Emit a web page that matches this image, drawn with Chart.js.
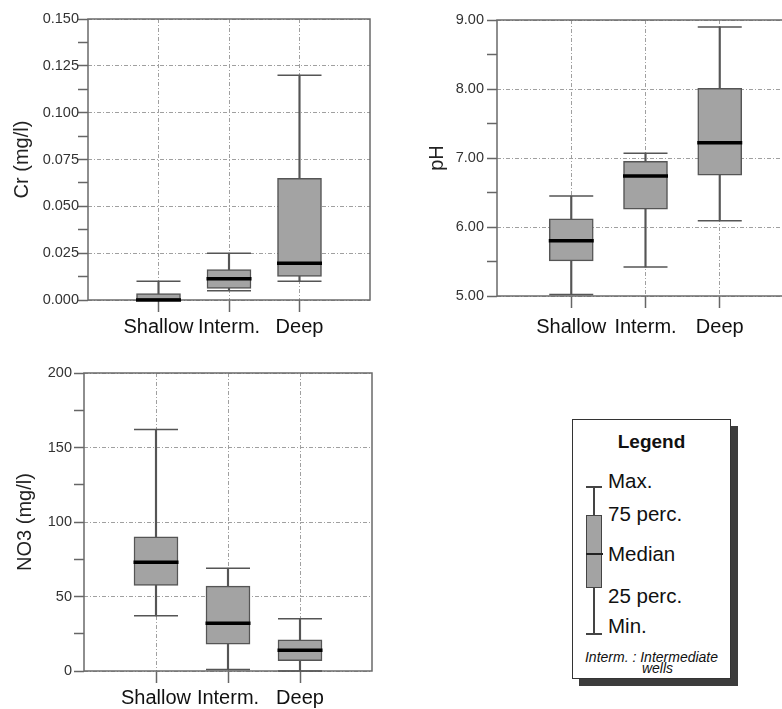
<!DOCTYPE html>
<html>
<head>
<meta charset="utf-8">
<script src="https://cdn.jsdelivr.net/npm/chart.js@4.4.0/dist/chart.umd.min.js"></script>
<style>
  html, body { margin: 0; padding: 0; background: #fff; }
  body { width: 782px; height: 709px; position: relative; overflow: hidden;
         font-family: "Liberation Sans", Arial, sans-serif; color: #111; }
  .wrap { position: absolute; }
  #legend { position: absolute; left: 572px; top: 419px; width: 157px; height: 258px;
            border: 1.5px solid #333; background: #fff; box-shadow: 7px 7px 0 #3c3c3c; }
  #legend div { position: absolute; white-space: nowrap; }
  .lg-txt { font-size: 20.5px; line-height: 24px; }
</style>
</head>
<body>

<div class="wrap" style="left:0;top:0;width:390px;height:345px"><canvas id="crChart" width="390" height="345"></canvas></div>
<div class="wrap" style="left:392px;top:0;width:410px;height:345px"><canvas id="phChart" width="410" height="345"></canvas></div>
<div class="wrap" style="left:0;top:345px;width:390px;height:364px"><canvas id="no3Chart" width="390" height="364"></canvas></div>

<div id="legend">
  <div style="left:0;width:157px;top:10px;text-align:center;font-weight:bold;font-size:19px;line-height:24px">Legend</div>
  <!-- little box glyph -->
  <div style="left:20px;top:66px;width:1.5px;height:148px;background:#444"></div>
  <div style="left:13px;top:66px;width:16px;height:1.5px;background:#444"></div>
  <div style="left:13px;top:213px;width:16px;height:1.5px;background:#444"></div>
  <div style="left:13px;top:95px;width:14px;height:71px;background:#a3a3a3;border:1.5px solid #444"></div>
  <div style="left:13px;top:133px;width:17px;height:1.5px;background:#222"></div>
  <div class="lg-txt" style="left:35px;top:49px">Max.</div>
  <div class="lg-txt" style="left:35px;top:82px">75 perc.</div>
  <div class="lg-txt" style="left:35px;top:122px">Median</div>
  <div class="lg-txt" style="left:35px;top:164px">25 perc.</div>
  <div class="lg-txt" style="left:35px;top:194px">Min.</div>
  <div style="left:0;width:157px;top:232px;text-align:center;font-style:italic;font-size:14px;line-height:11px">
    Interm. : Intermediate<br><span style="padding-left:12px">wells</span></div>
</div>

<script>
// ---------- data ----------
const groups = ['Shallow', 'Interm.', 'Deep'];

// Cr (mg/l)
const crMin = [0.000, 0.005, 0.010];
const crQ1  = [0.000, 0.0062, 0.0126];
const crMed = [0.000, 0.0114, 0.0196];
const crQ3  = [0.0034, 0.0162, 0.065];
const crMax = [0.010, 0.025, 0.120];

// pH
const phMin = [5.02, 5.42, 6.09];
const phQ1  = [5.51, 6.26, 6.75];
const phMed = [5.80, 6.74, 7.22];
const phQ3  = [6.12, 6.95, 8.01];
const phMax = [6.45, 7.07, 8.90];

// NO3 (mg/l)
const no3Min = [37, 1, 0];
const no3Q1  = [57.5, 18, 7];
const no3Med = [73, 32, 14];
const no3Q3  = [90, 57, 21];
const no3Max = [162, 69, 35];

// ---------- helpers ----------
Chart.defaults.font.family = '"Liberation Sans", Arial, sans-serif';

// empty slot on each side so the groups sit at 1,2,3 of a 0..4 axis
const pad = a => [null, ...a, null];

const frame = {
    id: 'frame',
    beforeDatasetsDraw(chart) {
        const a = chart.chartArea, ctx = chart.ctx;
        ctx.save();
        ctx.strokeStyle = '#6a6a6a';
        ctx.lineWidth = 1.5;
        ctx.strokeRect(a.left, a.top, a.right - a.left, a.bottom - a.top);
        ctx.restore();
    }
};

function boxDatasets(mins, q1, med, q3, max) {
    const cap = (vals) => ({
        type: 'line', data: pad(vals), showLine: false, clip: false,
        pointStyle: 'line', pointRadius: 22, pointBorderWidth: 1.5,
        pointBorderColor: '#555', pointHoverRadius: 22
    });
    return [
        { type: 'line', data: pad(med), showLine: false, clip: false,
          pointStyle: 'line', pointRadius: 22.5, pointBorderWidth: 3.5,
          pointBorderColor: '#000', pointHoverRadius: 22.5 },
        { type: 'bar', data: pad(q1.map((v, i) => [v, q3[i]])), grouped: false,
          barThickness: 44, backgroundColor: '#a3a3a3', borderColor: '#555',
          borderWidth: 1.5, borderSkipped: false },
        cap(max),
        cap(mins),
        { type: 'bar', data: pad(mins.map((v, i) => [v, max[i]])), grouped: false,
          barThickness: 1.5, backgroundColor: '#555', borderWidth: 0 }
    ];
}

function makeChart(id, o) {
    const ctx = document.getElementById(id).getContext('2d');
    return new Chart(ctx, {
        type: 'bar',
        data: { labels: pad(groups).map(g => g || ''), datasets: boxDatasets(o.min, o.q1, o.med, o.q3, o.max) },
        options: {
            responsive: false,
            animation: false,
            events: [],
            layout: { padding: o.padding, autoPadding: false },
            plugins: { legend: { display: false }, tooltip: { enabled: false } },
            scales: {
                x: {
                    offset: false,
                    grid: {
                        offset: false,
                        color: c => (c.index === 0 || c.index === 4) ? 'transparent' : '#a0a0a0',
                        tickColor: c => (c.index === 0 || c.index === 4) ? 'transparent' : '#666',
                        tickLength: 12, tickWidth: 1.5
                    },
                    border: { display: false, dash: [4, 2, 1, 2] },
                    ticks: { autoSkip: false, maxRotation: 0, color: '#111', font: { size: 20 }, padding: o.xPad },
                    afterFit: s => { s.height = o.xHeight; }
                },
                y: {
                    min: o.yMin, max: o.yMax,
                    grid: {
                        color: c => c.index % 2 ? 'transparent' : '#a0a0a0',
                        tickColor: '#666', tickLength: 10, tickWidth: 1.5
                    },
                    border: { display: false, dash: [4, 2, 1, 2] },
                    ticks: {
                        stepSize: o.step, maxTicksLimit: 30,
                        callback: (v, i) => i % 2 ? '' : o.fmt(v),
                        color: '#333', font: { size: 14.5 }, padding: o.tickPad
                    },
                    title: { display: true, text: o.title, color: '#222', font: { size: 20 }, padding: { top: o.titlePad, bottom: 0 } },
                    afterFit: s => { s.width = o.yWidth; }
                }
            }
        },
        plugins: [frame]
    });
}

makeChart('crChart', {
    min: crMin, q1: crQ1, med: crMed, q3: crQ3, max: crMax,
    yMin: 0, yMax: 0.15, step: 0.0125, fmt: v => v.toFixed(3),
    title: 'Cr (mg/l)', titlePad: 10, tickPad: -1, xPad: 3,
    yWidth: 88, xHeight: 45, padding: { top: 19, right: 20, left: 0, bottom: 0 }
});

makeChart('phChart', {
    min: phMin, q1: phQ1, med: phMed, q3: phQ3, max: phMax,
    yMin: 5, yMax: 9, step: 0.5, fmt: v => v.toFixed(2),
    title: 'pH', titlePad: 33, tickPad: 3, xPad: 7,
    yWidth: 105, xHeight: 49, padding: { top: 20, right: 8, left: 0, bottom: 0 }
});

makeChart('no3Chart', {
    min: no3Min, q1: no3Q1, med: no3Med, q3: no3Q3, max: no3Max,
    yMin: 0, yMax: 200, step: 25, fmt: v => String(v),
    title: 'NO3 (mg/l)', titlePad: 13, tickPad: 2, xPad: 3,
    yWidth: 84, xHeight: 38, padding: { top: 28, right: 18, left: 0, bottom: 0 }
});
</script>
</body>
</html>
